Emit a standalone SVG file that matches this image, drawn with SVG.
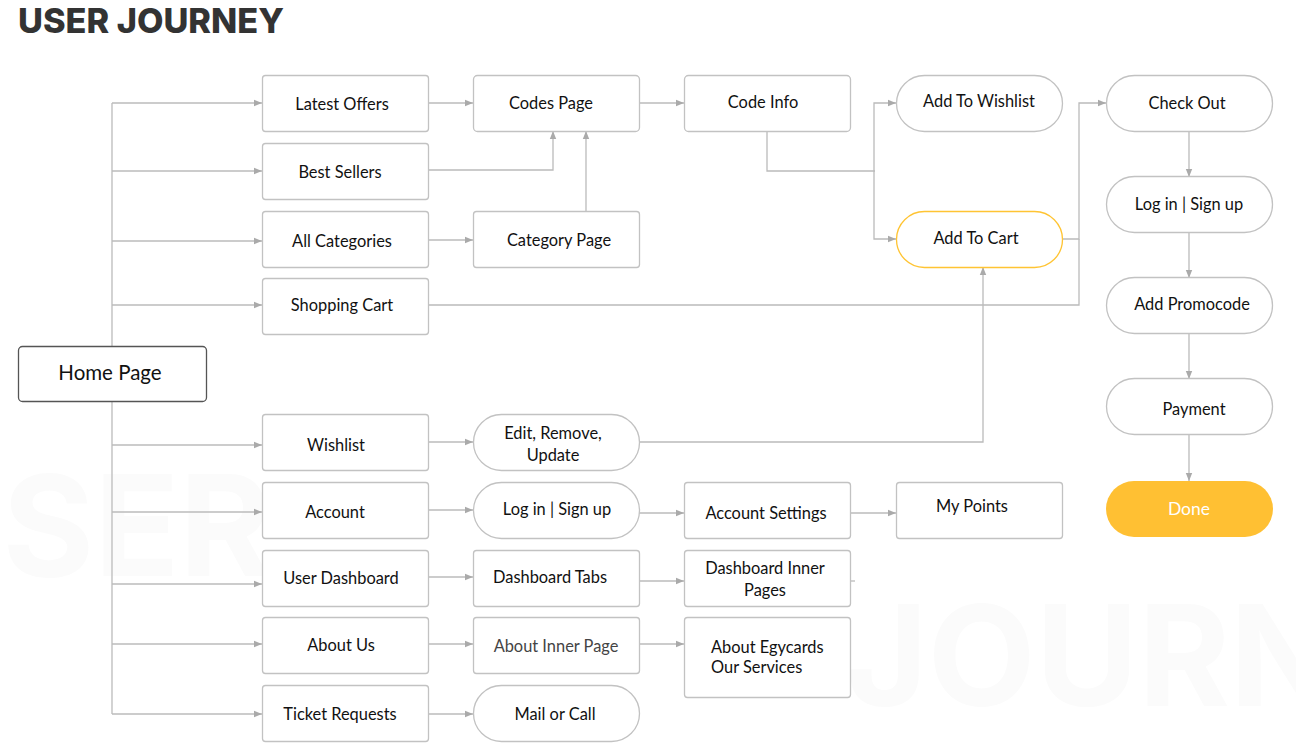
<svg xmlns="http://www.w3.org/2000/svg" width="1296" height="749" viewBox="0 0 1296 749">
<defs>
<marker id="ah" viewBox="0 0 8 8" refX="8" refY="4" markerWidth="8" markerHeight="8" markerUnits="userSpaceOnUse" orient="auto">
<path d="M0,0.8 L8,4 L0,7.2 z" fill="#aaaaaa"/>
</marker>
<style>
.bx{fill:#ffffff;stroke:#c2c2c2;stroke-width:1.3}
.pl{fill:#ffffff;stroke:#c2c2c2;stroke-width:1.3}
.t{font-family:Lato,"Open Sans",sans-serif;font-size:16.4px;fill:#111111;text-anchor:middle}
.c{fill:none;stroke:#bbbbbb;stroke-width:1.3}
.a{marker-end:url(#ah)}
.wm{font-family:Inter,"Open Sans",sans-serif;font-weight:700;font-size:140px;fill:#fbfbfb}
</style>
</defs>
<rect width="1296" height="749" fill="#ffffff"/>
<g id="watermark">
<text class="wm" x="-100" y="576">USER</text>
<text class="wm" x="846" y="706">JOURNEY</text>
</g>
<g id="title"><text x="18" y="33" font-family="Inter,'Open Sans',sans-serif" font-weight="800" font-size="34" fill="#333333" textLength="266" lengthAdjust="spacingAndGlyphs">USER JOURNEY</text></g>
<g id="connectors">
<path class="c" d="M112,103 V714"/>
<path class="c a" d="M112,103 H262"/>
<path class="c a" d="M112,171 H262"/>
<path class="c a" d="M112,241 H262"/>
<path class="c a" d="M112,305 H262"/>
<path class="c a" d="M112,445 H262"/>
<path class="c a" d="M112,512 H262"/>
<path class="c a" d="M112,584 H262"/>
<path class="c a" d="M112,644 H262"/>
<path class="c a" d="M112,714 H262"/>
<path class="c a" d="M428,103 H473"/>
<path class="c a" d="M428,170 H553 V131"/>
<path class="c a" d="M586,211 V131"/>
<path class="c a" d="M428,240 H473"/>
<path class="c a" d="M639,103 H684"/>
<path class="c" d="M767,131 V171 H875"/>
<path class="c a" d="M874,171 V103 H896"/>
<path class="c a" d="M874,171 V239 H896"/>
<path class="c a" d="M1062,239 H1079 V103 H1106"/>
<path class="c" d="M428,305 H1079 V239"/>
<path class="c a" d="M639,442 H983 V267"/>
<path class="c a" d="M1189,131 V177"/>
<path class="c a" d="M1189,232 V278"/>
<path class="c a" d="M1189,333 V379"/>
<path class="c a" d="M1189,434 V481"/>
<path class="c a" d="M428,442 H473"/>
<path class="c a" d="M428,510 H473"/>
<path class="c a" d="M639,513 H684"/>
<path class="c a" d="M850,513 H896"/>
<path class="c a" d="M428,577 H473"/>
<path class="c a" d="M639,581 H684"/>
<path class="c" d="M850,581 H855"/>
<path class="c a" d="M428,644 H473"/>
<path class="c a" d="M639,644 H684"/>
<path class="c a" d="M428,714 H473"/>
</g>
<g id="home"><rect x="18.5" y="346.5" width="188" height="55" rx="4" fill="#ffffff" stroke="#555555" stroke-width="1.3"/><text class="t" x="110" y="380" style="font-size:20.5px">Home Page</text></g>
<g id="latest-offers"><rect class="bx" x="262.5" y="75.5" width="166" height="56" rx="3"/><text class="t" x="342" y="110">Latest Offers</text></g>
<g id="best-sellers"><rect class="bx" x="262.5" y="143.5" width="166" height="56" rx="3"/><text class="t" x="340" y="178">Best Sellers</text></g>
<g id="all-categories"><rect class="bx" x="262.5" y="211.5" width="166" height="56" rx="3"/><text class="t" x="342" y="247">All Categories</text></g>
<g id="shopping-cart"><rect class="bx" x="262.5" y="278.5" width="166" height="56" rx="3"/><text class="t" x="342" y="311">Shopping Cart</text></g>
<g id="wishlist"><rect class="bx" x="262.5" y="414.5" width="166" height="56" rx="3"/><text class="t" x="336" y="451">Wishlist</text></g>
<g id="account"><rect class="bx" x="262.5" y="482.5" width="166" height="56" rx="3"/><text class="t" x="335" y="518">Account</text></g>
<g id="user-dashboard"><rect class="bx" x="262.5" y="550.5" width="166" height="56" rx="3"/><text class="t" x="341" y="584">User Dashboard</text></g>
<g id="about-us"><rect class="bx" x="262.5" y="617.5" width="166" height="56" rx="3"/><text class="t" x="341" y="651">About Us</text></g>
<g id="ticket-requests"><rect class="bx" x="262.5" y="685.5" width="166" height="56" rx="3"/><text class="t" x="340" y="720">Ticket Requests</text></g>
<g id="codes-page"><rect class="bx" x="473.5" y="75.5" width="166" height="56" rx="4"/><text class="t" x="551" y="109">Codes Page</text></g>
<g id="category-page"><rect class="bx" x="473.5" y="211.5" width="166" height="56" rx="3"/><text class="t" x="559" y="246">Category Page</text></g>
<g id="edit-remove"><rect class="pl" x="473.5" y="414.5" width="166" height="56" rx="28"/><text class="t" x="553" y="439">Edit, Remove,</text><text class="t" x="553" y="461">Update</text></g>
<g id="login-1"><rect class="pl" x="473.5" y="482.5" width="166" height="56" rx="28"/><text class="t" x="557" y="515">Log in | Sign up</text></g>
<g id="dashboard-tabs"><rect class="bx" x="473.5" y="550.5" width="166" height="56" rx="3"/><text class="t" x="550" y="583">Dashboard Tabs</text></g>
<g id="about-inner"><rect class="bx" x="473.5" y="617.5" width="166" height="56" rx="3"/><text class="t" x="556" y="652" style="fill:#444444">About Inner Page</text></g>
<g id="mail-call"><rect class="pl" x="473.5" y="685.5" width="166" height="56" rx="28"/><text class="t" x="555" y="720">Mail or Call</text></g>
<g id="code-info"><rect class="bx" x="684.5" y="75.5" width="166" height="56" rx="4"/><text class="t" x="763" y="108">Code Info</text></g>
<g id="account-settings"><rect class="bx" x="684.5" y="482.5" width="166" height="56" rx="3"/><text class="t" x="766" y="519">Account Settings</text></g>
<g id="dashboard-inner"><rect class="bx" x="684.5" y="550.5" width="166" height="56" rx="3"/><text class="t" x="765" y="574">Dashboard Inner</text><text class="t" x="765" y="596">Pages</text></g>
<g id="about-egycards"><rect class="bx" x="684.5" y="617.5" width="166" height="80" rx="3"/><text class="t" x="711" y="653" style="text-anchor:start">About Egycards</text><text class="t" x="711" y="673" style="text-anchor:start">Our Services</text></g>
<g id="add-wishlist"><rect class="pl" x="896.5" y="75.5" width="166" height="56" rx="28"/><text class="t" x="979" y="107">Add To Wishlist</text></g>
<g id="add-cart"><rect x="896.5" y="211.5" width="166" height="56" rx="28" fill="#ffffff" stroke="#ffc433" stroke-width="1.3"/><text class="t" x="976" y="244">Add To Cart</text></g>
<g id="my-points"><rect class="bx" x="896.5" y="482.5" width="166" height="56" rx="3"/><text class="t" x="972" y="512">My Points</text></g>
<g id="check-out"><rect class="pl" x="1106.5" y="75.5" width="166" height="56" rx="28"/><text class="t" x="1187" y="109">Check Out</text></g>
<g id="login-2"><rect class="pl" x="1106.5" y="176.5" width="166" height="56" rx="28"/><text class="t" x="1189" y="210">Log in | Sign up</text></g>
<g id="add-promocode"><rect class="pl" x="1106.5" y="277.5" width="166" height="56" rx="28"/><text class="t" x="1192" y="310">Add Promocode</text></g>
<g id="payment"><rect class="pl" x="1106.5" y="378.5" width="166" height="56" rx="28"/><text class="t" x="1194" y="415">Payment</text></g>
<g id="done"><rect x="1106" y="481" width="167" height="56" rx="28" fill="#ffc033"/><text class="t" x="1189" y="515" style="fill:#ffffff;font-size:17.5px">Done</text></g>
</svg>
